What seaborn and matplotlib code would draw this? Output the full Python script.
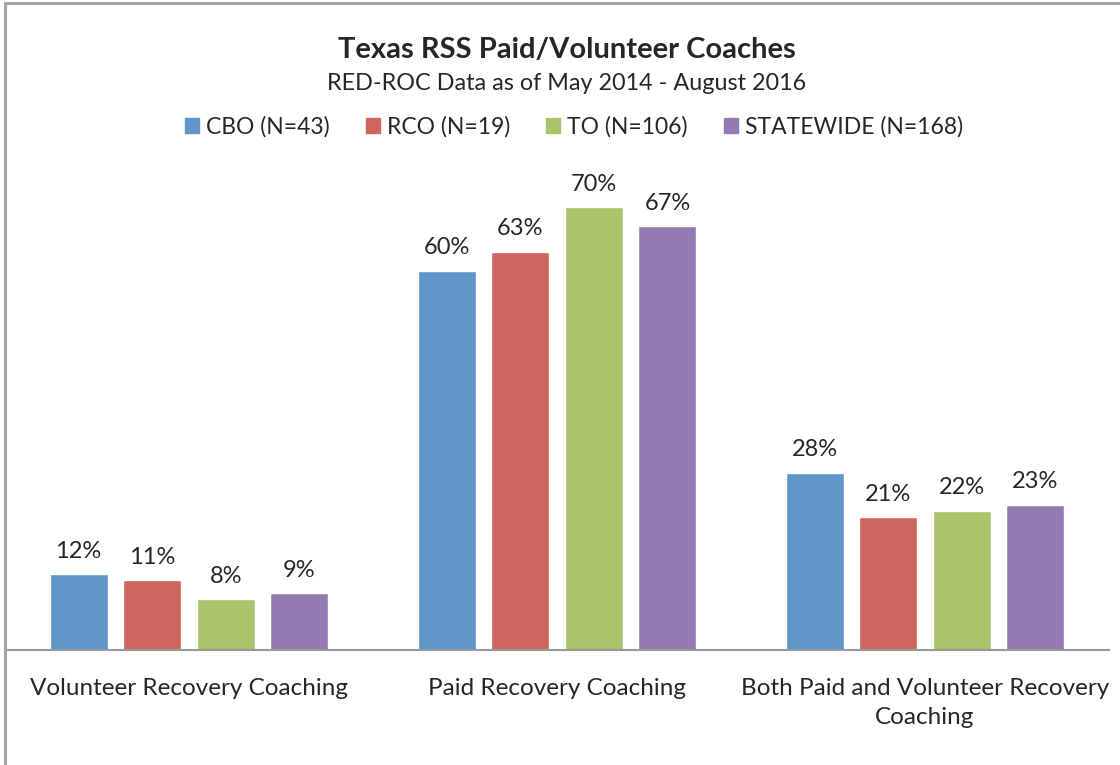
#!/usr/bin/env python3
"""Texas RSS paid/volunteer coaches grouped bar chart."""

import matplotlib
matplotlib.use("Agg")
import matplotlib.pyplot as plt
from matplotlib.lines import Line2D
import pandas as pd
import seaborn as sns

CATEGORIES = [
    "Volunteer Recovery Coaching",
    "Paid Recovery Coaching",
    "Both Paid and Volunteer Recovery\nCoaching",
]
GROUPS = ["CBO (N=43)", "RCO (N=19)", "TO (N=106)", "STATEWIDE (N=168)"]
CBO = [12, 60, 28]
RCO = [11, 63, 21]
TO = [8, 70, 22]
STATEWIDE = [9, 67, 23]
COLORS = ["#6096CA", "#CE665F", "#AAC46C", "#947AB1"]

sns.set_theme(style="white")
plt.rcParams["font.family"] = ["Lato", "DejaVu Sans"]

rows = []
for group, vals in zip(GROUPS, [CBO, RCO, TO, STATEWIDE]):
    for cat, v in zip(CATEGORIES, vals):
        rows.append({"category": cat, "group": group, "value": v})
df = pd.DataFrame(rows)

W, H = 1120, 765
fig = plt.figure(figsize=(W / 100, H / 100), dpi=100)
ax = fig.add_axes([5 / W, (H - 650) / H, 1104 / W, 506 / H])

sns.barplot(data=df, x="category", y="value", hue="group", palette=COLORS,
            width=0.8, gap=0.21, order=CATEGORIES, hue_order=GROUPS,
            legend=False, ax=ax, saturation=1)

ax.set_ylim(0, 80)
ax.set_xlim(-0.5, 2.5)
ax.set(xlabel="", ylabel="")
ax.set_yticks([])
ax.tick_params(axis="x", length=0, pad=20, labelsize=17.5)
for lab in ax.get_xticklabels():
    lab.set_linespacing(1.5)
for s in ["top", "right", "left"]:
    ax.spines[s].set_visible(False)
ax.spines["bottom"].set_color("#999999")
ax.spines["bottom"].set_linewidth(1.5)

for cont in ax.containers:
    ax.bar_label(cont, fmt="%g%%", padding=9, fontsize=17)

# chart border (left and top)
fig.add_artist(Line2D([4.5 / W, 4.5 / W], [0, 1 - 3 / H], color="#A6A6A6", lw=2.2))
fig.add_artist(Line2D([4.5 / W, 1], [1 - 3 / H, 1 - 3 / H], color="#A6A6A6", lw=2.2))

fig.text(567 / W, 1 - 50 / H, "Texas RSS Paid/Volunteer Coaches", ha="center",
         va="center", fontsize=21, fontweight="bold")
fig.text(567 / W, 1 - 84 / H, "RED-ROC Data as of May 2014 - August 2016",
         ha="center", va="center", fontsize=16.8)

handles = [plt.Rectangle((0, 0), 1, 1, color=c) for c in COLORS]
fig.legend(handles, GROUPS, loc="center", bbox_to_anchor=(574 / W, 1 - 127 / H),
           ncol=4, frameon=False, fontsize=16.5, handlelength=0.6, handleheight=0.6,
           handletextpad=0.3, columnspacing=1.6)

fig.savefig("out.png", dpi=100)
